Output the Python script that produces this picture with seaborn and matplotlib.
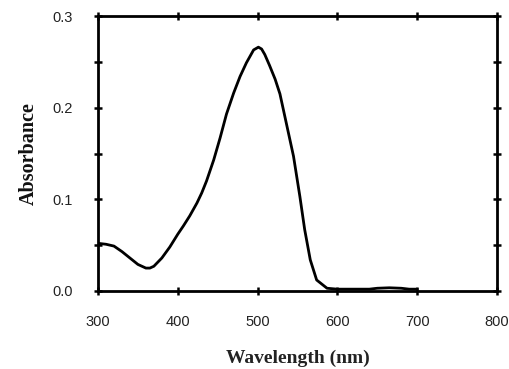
import matplotlib
matplotlib.use("Agg")
import matplotlib.pyplot as plt
import seaborn as sns
import pandas as pd

wavelength = [300, 310, 320, 330, 340, 350, 360, 365, 370, 380, 390, 400, 407, 415,
              424, 430, 436, 445, 453, 461, 470, 478, 486, 495, 501, 505, 509, 515, 522,
              528, 536, 545, 553, 559, 566, 574, 587, 600, 620, 640, 650, 665, 680,
              690, 700]
absorbance = [0.052, 0.051, 0.049, 0.043, 0.036, 0.029, 0.025, 0.025, 0.027, 0.036,
              0.048, 0.062, 0.071, 0.082, 0.096, 0.107, 0.120, 0.143, 0.167, 0.193, 0.216,
              0.234, 0.249, 0.263, 0.266, 0.264, 0.258, 0.246, 0.231, 0.215, 0.183,
              0.147, 0.103, 0.067, 0.034, 0.012, 0.003, 0.002, 0.002, 0.002, 0.003,
              0.0035, 0.003, 0.002, 0.002]
x_ticks = [300, 400, 500, 600, 700, 800]
y_ticks = [0.0, 0.1, 0.2, 0.3]

df = pd.DataFrame({"Wavelength": wavelength, "Absorbance": absorbance})

sns.set_style("white")
fig = plt.figure(figsize=(5.1, 3.69), dpi=100)
ax = fig.add_axes([98/510, 1-291/369, (497-98)/510, (291-16)/369])

sns.lineplot(data=df, x="Wavelength", y="Absorbance", ax=ax, color="black", lw=2.0)

ax.set_xlim(300, 800)
ax.set_ylim(0, 0.3)
ax.set_xticks(x_ticks)
ax.set_yticks(y_ticks)
ax.set_xticklabels([str(t) for t in x_ticks], fontsize=10.5, family="Liberation Sans",
                   color="#222222")
ax.set_yticklabels([f"{t:.1f}" for t in y_ticks], fontsize=10.5, family="Liberation Sans",
                   color="#222222")
ax.set_yticks([0.05, 0.15, 0.25], minor=True)
ax.tick_params(axis="both", which="both", direction="inout", length=6, width=1.8,
               top=True, right=True, bottom=True, left=True, color="black")
ax.tick_params(axis="x", pad=14)
ax.tick_params(axis="y", pad=15)
for s in ax.spines.values():
    s.set_color("black")
    s.set_linewidth(2.0)

ax.set_xlabel("Wavelength (nm)", fontsize=14, family="Liberation Serif", fontweight="bold",
              labelpad=15, color="#222222")
ax.set_ylabel("Absorbance", fontsize=14.5, family="Liberation Serif", fontweight="bold",
              labelpad=10, color="#111111")

fig.savefig("out.png", dpi=100)
